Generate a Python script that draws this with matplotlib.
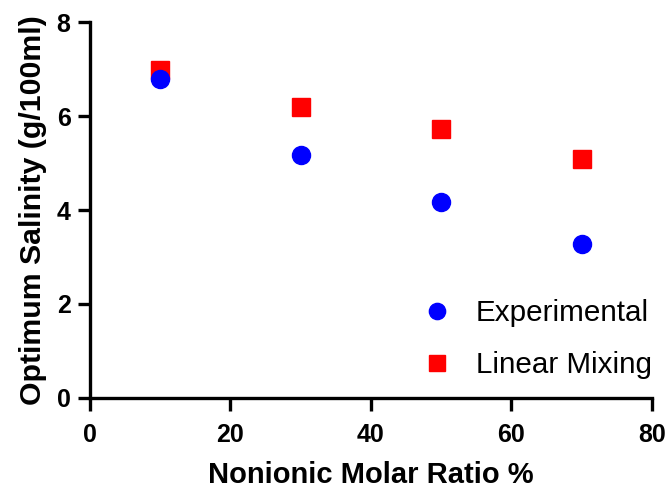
import matplotlib
matplotlib.use("Agg")
import matplotlib.pyplot as plt

x_ratio = [10, 30, 50, 70]
experimental = [6.78, 5.18, 4.18, 3.28]
linear_mixing = [6.97, 6.19, 5.72, 5.09]
x_ticks = [0, 20, 40, 60, 80]
y_ticks = [0, 2, 4, 6, 8]

plt.rcParams['font.family'] = ['Liberation Sans', 'DejaVu Sans']

fig = plt.figure(figsize=(6.68, 4.9), dpi=100)
ax = fig.add_axes([0.1347, 0.1878, 0.8413, 0.7672])

ax.plot(x_ratio, linear_mixing, 's', color='#ff0000', markersize=13, label='Linear Mixing', zorder=3, clip_on=False)
ax.plot(x_ratio, experimental, 'o', color='#0000ff', markersize=13, label='Experimental', zorder=4, clip_on=False)

ax.set_xlim(0, 80)
ax.set_ylim(0, 8)
ax.set_xticks(x_ticks)
ax.set_yticks(y_ticks)
for s in ['top', 'right']:
    ax.spines[s].set_visible(False)
for s in ['left', 'bottom']:
    ax.spines[s].set_linewidth(2.4)
ax.tick_params(axis='both', width=2.4, length=9, labelsize=18)
ax.tick_params(axis='x', pad=9)
ax.tick_params(axis='y', pad=5)
for lbl in ax.get_xticklabels() + ax.get_yticklabels():
    lbl.set_fontweight('bold')

ax.set_xlabel('Nonionic Molar Ratio %', fontsize=21, fontweight='bold', labelpad=10)
ax.set_ylabel('Optimum Salinity (g/100ml)', fontsize=21.8, fontweight='bold', labelpad=7)

handles, labels = ax.get_legend_handles_labels()
ax.legend(handles[::-1], labels[::-1], loc='lower right', bbox_to_anchor=(1.047, -0.02),
          frameon=False, fontsize=21.3, handletextpad=0.8, labelspacing=0.8,
          handlelength=1.0, markerscale=0.9)

fig.savefig('out.png', dpi=100)
